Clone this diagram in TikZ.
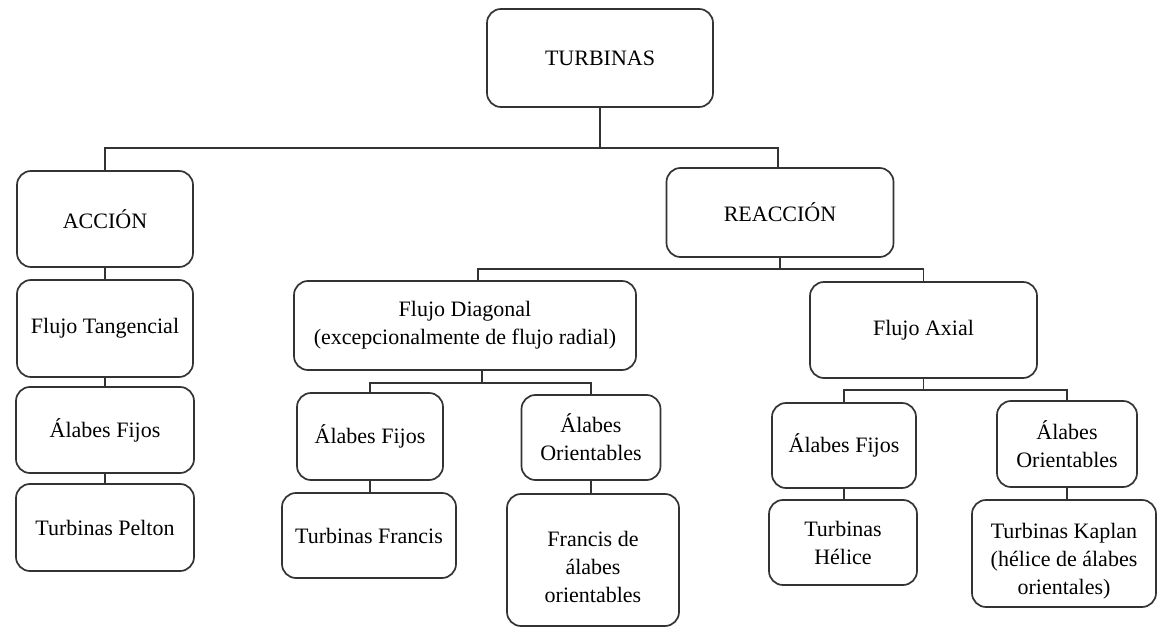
\documentclass[tikz,border=0pt]{standalone}
\usepackage{fontspec}
\setmainfont{Liberation Serif}
\begin{document}
\begin{tikzpicture}[x=1pt,y=-1pt,
  box/.style={draw=black!80, line width=1.7pt, rounded corners=14pt, inner sep=2pt, outer sep=0pt,
    align=center, text=black, font=\fontsize{22}{28}\selectfont},
  link/.style={draw=black!80, line width=1.6pt}]
\useasboundingbox (0,0) rectangle (1159,628);
% nodes
\node[box, minimum width=226pt, minimum height=98pt] (turb) at (600,58) {TURBINAS};
\node[box, minimum width=176pt, minimum height=96pt] (accion) at (105,219) {ACCIÓN};
\node[box, minimum width=227pt, minimum height=89pt] (reac) at (780,212.5) {REACCIÓN};
\node[box, minimum width=176pt, minimum height=97pt] (ftang) at (105,328.5) {Flujo Tangencial};
\node[box, minimum width=178pt, minimum height=86pt] (afijL) at (105,430) {Álabes Fijos};
\node[box, minimum width=178pt, minimum height=87pt] (pelton) at (105,527.5) {Turbinas Pelton};
\node[box, minimum width=342pt, minimum height=89pt] (fdiag) at (465,325.5) {Flujo Diagonal\\(excepcionalmente de flujo radial)};
\node[box, minimum width=227pt, minimum height=96pt] (faxial) at (923.5,330) {Flujo Axial};
\node[box, minimum width=146pt, minimum height=87pt] (afijM) at (370,436.5) {Álabes Fijos};
\node[box, minimum width=139pt, minimum height=85pt] (aorM) at (591,437.5) {Álabes\\Orientables};
\node[box, minimum width=174pt, minimum height=85pt] (francis) at (369,535.5) {Turbinas Francis};
\node[box, minimum width=172pt, minimum height=132pt] (fda) at (593,560) {\rule{0pt}{30pt}Francis de\\álabes\\orientables};
\node[box, minimum width=144pt, minimum height=85pt] (afijR) at (844,445.5) {Álabes Fijos};
\node[box, minimum width=140pt, minimum height=86pt] (aorR) at (1067,444) {Álabes\\Orientables};
\node[box, minimum width=148pt, minimum height=85pt] (helice) at (843,542.5) {Turbinas\\Hélice};
\node[box, minimum width=184pt, minimum height=107pt] (kaplan) at (1064,553.5) {\rule{0pt}{30pt}Turbinas Kaplan\\(hélice de álabes\\orientales)};
% connectors
\draw[link] (turb.south) -- ++(0,41);
\draw[link] (accion.north) -- ++(0,-23) -| ([xshift=-2pt]reac.north);
\draw[link] (reac.south) -- ++(0,12.5);
\draw[link] ([xshift=13pt]fdiag.north) -- ++(0,-12) -| (faxial.north);
\draw[link] ([xshift=17pt]fdiag.south) -- ++(0,13);
\draw[link] (afijM.north) -- ++(0,-10) -| (aorM.north);
\draw[link] (faxial.south) -- ++(0,12);
\draw[link] (afijR.north) -- ++(0,-13) -| (aorR.north);
\draw[link] (accion.south) -- (ftang.north);
\draw[link] (ftang.south) -- (afijL.north);
\draw[link] (afijL.south) -- (pelton.north);
\draw[link] (afijM.south) -- (afijM.south |- francis.north);
\draw[link] (aorM.south) -- (aorM.south |- fda.north);
\draw[link] (afijR.south) -- (afijR.south |- helice.north);
\draw[link] (aorR.south) -- (aorR.south |- kaplan.north);
\end{tikzpicture}
\end{document}
